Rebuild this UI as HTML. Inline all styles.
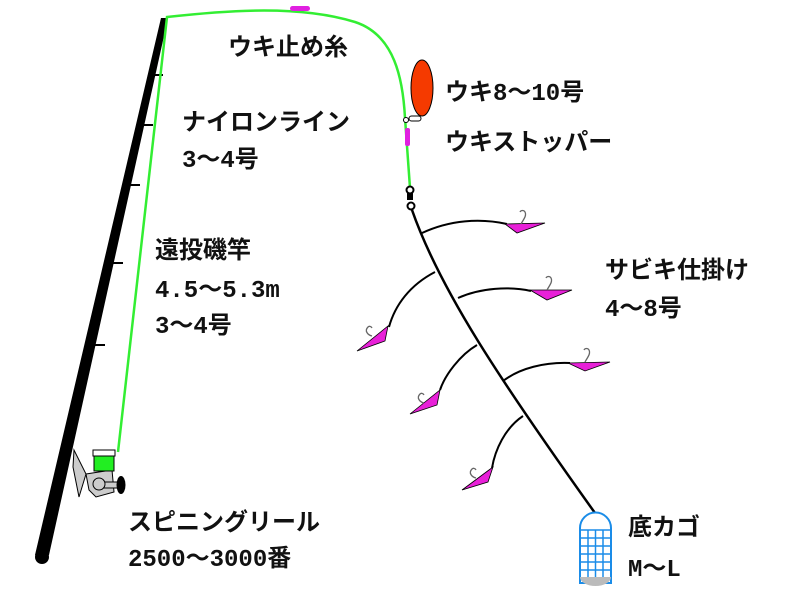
<!DOCTYPE html>
<html><head><meta charset="utf-8"><style>
html,body{margin:0;padding:0;background:#fff;width:800px;height:600px;overflow:hidden}
svg{display:block}
text{font-family:"Liberation Mono","Noto Sans CJK JP",monospace;font-weight:bold;font-size:24px;fill:#111}
</style></head><body>
<svg width="800" height="600" viewBox="0 0 800 600" xmlns="http://www.w3.org/2000/svg">
<!-- rod -->
<polygon points="161,18 168,18 49,555 35,555" fill="#000"/>
<circle cx="42" cy="557" r="7" fill="#000"/>
<g stroke="#000" stroke-width="2">
<line x1="152" y1="75" x2="163" y2="75"/>
<line x1="141" y1="125" x2="153" y2="125"/>
<line x1="128" y1="185" x2="140" y2="185"/>
<line x1="110" y1="263" x2="123" y2="263"/>
<line x1="92" y1="345" x2="105" y2="345"/>
</g>
<!-- green line -->
<path d="M118,452 L167,17 C230,10 300,5 355,22 C395,35 403,80 405,118 L410,188" fill="none" stroke="#33ee33" stroke-width="2.5"/>
<rect x="290" y="6" width="20" height="5" rx="2.5" fill="#e020e0"/>
<rect x="405" y="128" width="5" height="18" rx="2" fill="#e020e0"/>
<!-- float -->
<ellipse cx="422" cy="88" rx="11" ry="28" fill="#f53a00" stroke="#000" stroke-width="1"/>
<rect x="409" y="116" width="12" height="5" rx="2.5" fill="#fff" stroke="#000" stroke-width="1"/>
<circle cx="406" cy="120" r="2.5" fill="#fff" stroke="#000"/>
<!-- swivel -->
<circle cx="410" cy="190" r="3.5" fill="#fff" stroke="#000" stroke-width="2"/>
<rect x="407" y="193" width="6" height="7" fill="#000"/>
<circle cx="411" cy="206" r="3.5" fill="#fff" stroke="#000" stroke-width="2"/>
<!-- main line -->
<path d="M412,210 C440,290 500,380 595,513" fill="none" stroke="#000" stroke-width="2.5"/>
<g fill="none" stroke="#000" stroke-width="2">
<path d="M422,233 C450,220 480,218 507,224"/>
<path d="M435,272 C410,285 395,305 389,327"/>
<path d="M458,298 C480,288 510,286 531,291"/>
<path d="M477,345 C460,355 445,375 440,390"/>
<path d="M503,381 C520,368 545,362 570,363"/>
<path d="M523,416 C505,428 495,450 492,468"/>
</g>
<g fill="#e820d8" stroke="#000" stroke-width="0.8">
<polygon points="505,224 545,223 517,233"/>
<polygon points="530,290 572,290 547,300"/>
<polygon points="568,363 610,362 585,371"/>
<polygon points="357,351 388,326 385,341"/>
<polygon points="410,414 440,390 437,405"/>
<polygon points="462,490 493,467 488,482"/>
</g>
<g fill="none" stroke="#666" stroke-width="1.3">
<path d="M521,224 c2,-4 6,-8 4,-12 c-1,-2 -4,-2 -5,0"/>
<path d="M547,290 c2,-4 6,-8 4,-12 c-1,-2 -4,-2 -5,0"/>
<path d="M585,362 c2,-4 6,-8 4,-12 c-1,-2 -4,-2 -5,0"/>
<path d="M372,336 c-4,-1 -8,-5 -4,-9 c1,-1 3,-1 4,1"/>
<path d="M424,403 c-4,-1 -8,-5 -4,-9 c1,-1 3,-1 4,1"/>
<path d="M476,478 c-4,-1 -8,-5 -4,-9 c1,-1 3,-1 4,1"/>
</g>
<!-- basket -->
<path d="M580,583 L580,528 A15.5,15.5 0 0 1 611,528 L611,583 Z" fill="#fff" stroke="#1a8ce8" stroke-width="2"/>
<g stroke="#1a8ce8" stroke-width="1.5">
<line x1="581" y1="530" x2="610" y2="530"/><line x1="581" y1="538" x2="610" y2="538"/>
<line x1="581" y1="546" x2="610" y2="546"/><line x1="581" y1="554" x2="610" y2="554"/>
<line x1="581" y1="562" x2="610" y2="562"/><line x1="581" y1="570" x2="610" y2="570"/>
<line x1="588" y1="530" x2="588" y2="578"/><line x1="595.5" y1="530" x2="595.5" y2="578"/><line x1="603" y1="530" x2="603" y2="578"/>
</g>
<path d="M580,577 L611,577 A15.5,9 0 0 1 580,577 Z" fill="#bbb"/>
<!-- reel -->
<polygon points="73,467 74,450 86,474 79,497" fill="#ccc" stroke="#000" stroke-width="1"/>
<polygon points="86,474 112,470 114,492 96,497 89,490" fill="#ccc" stroke="#000" stroke-width="1"/>
<rect x="94" y="456" width="20" height="15" fill="#22ee22" stroke="#000" stroke-width="1"/>
<rect x="93" y="450" width="22" height="6" fill="#fff" stroke="#000" stroke-width="1"/>
<rect x="98" y="482" width="22" height="6" fill="#ccc" stroke="#000" stroke-width="1"/>
<circle cx="99" cy="484" r="6" fill="#ccc" stroke="#000"/>
<ellipse cx="121" cy="485" rx="4.5" ry="9" fill="#000"/>
<!-- labels -->
<text x="228" y="55">ウキ止め糸</text>
<text x="445" y="100">ウキ8〜10号</text>
<text x="445" y="150">ウキストッパー</text>
<text x="182" y="130">ナイロンライン</text>
<text x="182" y="167">3〜4号</text>
<text x="155" y="258">遠投磯竿</text>
<text x="155" y="297">4.5〜5.3m</text>
<text x="155" y="333">3〜4号</text>
<text x="605" y="278">サビキ仕掛け</text>
<text x="605" y="316">4〜8号</text>
<text x="128" y="530">スピニングリール</text>
<text x="128" y="566">2500〜3000番</text>
<text x="628" y="535">底カゴ</text>
<text x="628" y="576">M〜L</text>
</svg>
</body></html>
